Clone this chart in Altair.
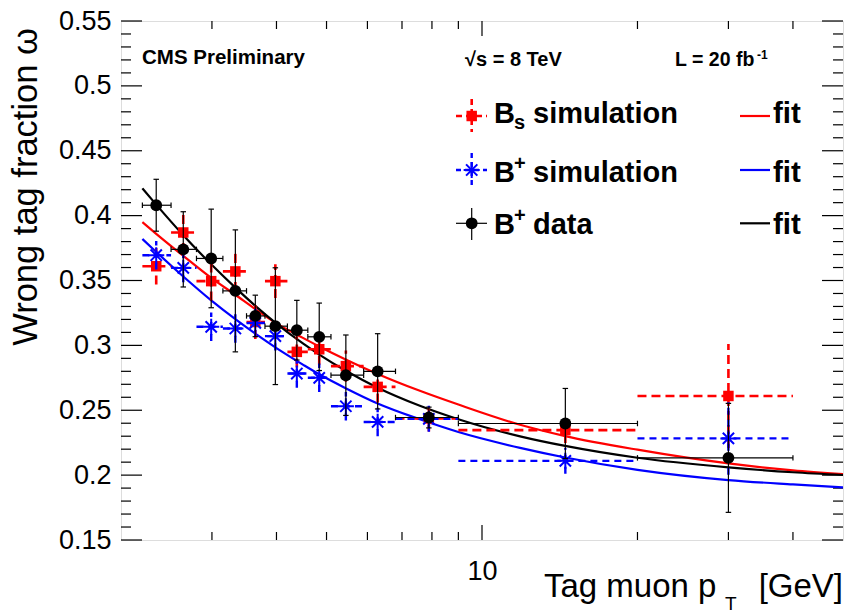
import altair as alt
import pandas as pd

# ---------------- data ----------------
pt = [2.34, 2.64, 2.99, 3.33, 3.64, 3.98, 4.38, 4.84, 5.45, 6.28, 7.89, 14.5, 30.0]
bin_lo = [2.2, 2.5, 2.8, 3.15, 3.5, 3.8, 4.2, 4.6, 5.1, 5.9, 6.8, 9.0, 20.0]
bin_hi = [2.5, 2.8, 3.15, 3.5, 3.8, 4.2, 4.6, 5.1, 5.9, 6.8, 9.0, 20.0, 40.0]

bs_sim = [0.361, 0.387, 0.3495, 0.357, 0.318, 0.3495, 0.295, 0.297, 0.284, 0.268, 0.2437, 0.2347, 0.261]
bs_err = [0.014, 0.015, 0.015, 0.015, 0.013, 0.013, 0.012, 0.012, 0.012, 0.012, 0.010, 0.010, 0.040]

bp_sim = [0.3695, 0.3597, 0.3143, 0.313, 0.3173, 0.3071, 0.2783, 0.275, 0.2531, 0.241, 0.2434, 0.211, 0.2283]
bp_sim_err = [0.011, 0.011, 0.011, 0.011, 0.011, 0.011, 0.011, 0.011, 0.011, 0.011, 0.010, 0.010, 0.028]

bp_data = [0.408, 0.374, 0.367, 0.342, 0.3227, 0.3148, 0.3117, 0.3066, 0.277, 0.280, 0.2444, 0.2398, 0.2133]
bp_data_err = [0.020, 0.029, 0.038, 0.047, 0.016, 0.045, 0.023, 0.026, 0.031, 0.029, 0.008, 0.027, 0.042]

fit_pt = [2.2, 2.34, 2.64, 2.99, 3.33, 3.64, 4.0, 4.5, 4.85, 5.47, 6.28, 7.58, 9.0, 11.85, 14.49, 20.0, 30.0, 40.0, 50.0]
fit_bs = [0.395, 0.386, 0.369, 0.352, 0.339, 0.328, 0.317, 0.3058, 0.299, 0.2888, 0.278, 0.265, 0.2544, 0.2388, 0.2301, 0.2196, 0.209, 0.2037, 0.2008]
fit_bp_sim = [0.382, 0.372, 0.3531, 0.3347, 0.3202, 0.309, 0.2979, 0.2852, 0.2775, 0.2666, 0.2552, 0.243, 0.2332, 0.221, 0.2136, 0.2041, 0.1962, 0.1928, 0.1905]
fit_bp_data = [0.421, 0.4085, 0.3849, 0.3625, 0.3445, 0.3305, 0.3168, 0.3015, 0.2927, 0.28, 0.2674, 0.2535, 0.2431, 0.2299, 0.2225, 0.2134, 0.206, 0.2022, 0.2001]

y_major = [0.15, 0.2, 0.25, 0.3, 0.35, 0.4, 0.45, 0.5, 0.55]
y_minor = [0.16, 0.17, 0.18, 0.19, 0.21, 0.22, 0.23, 0.24, 0.26, 0.27, 0.28, 0.29,
           0.31, 0.32, 0.33, 0.34, 0.36, 0.37, 0.38, 0.39, 0.41, 0.42, 0.43, 0.44,
           0.46, 0.47, 0.48, 0.49, 0.51, 0.52, 0.53, 0.54]
x_major = [10]
x_minor = [3, 4, 5, 6, 7, 8, 9, 20, 30, 40]

RED, BLUE, BLACK = "#ff0000", "#0000ff", "#000000"
FONT = "Liberation Sans"
W, H = 722, 519

xscale = alt.Scale(type="log", domain=[2, 50])
yscale = alt.Scale(domain=[0.15, 0.55])
xaxis = alt.Axis(values=x_major, ticks=False, domain=False, grid=False, title=None,
                 labelFontSize=27, labelPadding=18, labelFont=FONT, labelColor="black")
yaxis = alt.Axis(values=y_major, ticks=False, domain=False, grid=False, title=None, format="~g",
                 labelFontSize=27, labelPadding=10, labelFont=FONT, labelColor="black")


def X(f):
    return alt.X(f, type="quantitative", scale=xscale, axis=xaxis)


def Y(f):
    return alt.Y(f, type="quantitative", scale=yscale, axis=yaxis)


def series_df(vals, errs):
    d = pd.DataFrame({"pt": pt, "lo": bin_lo, "hi": bin_hi, "v": vals, "e": errs})
    d["vlo"] = d["v"] - d["e"]
    d["vhi"] = d["v"] + d["e"]
    return d


d_bs = series_df(bs_sim, bs_err)
d_bps = series_df(bp_sim, bp_sim_err)
d_bpd = series_df(bp_data, bp_data_err)

fits = pd.concat([
    pd.DataFrame({"pt": fit_pt, "w": fit_bs, "s": "bs"}),
    pd.DataFrame({"pt": fit_pt, "w": fit_bp_sim, "s": "bps"}),
    pd.DataFrame({"pt": fit_pt, "w": fit_bp_data, "s": "bpd"}),
])

layers = []

# ---- ticks (inside the frame, ROOT style) ----
ymaj = pd.DataFrame({"v": y_major})
ymin = pd.DataFrame({"v": y_minor})
xmaj = pd.DataFrame({"v": x_major})
xmin = pd.DataFrame({"v": x_minor})
tick_style = dict(color="black", strokeWidth=1.2)
for df, ln in [(ymaj, 21), (ymin, 10)]:
    layers.append(alt.Chart(df).mark_rule(**tick_style).encode(
        y=Y("v"), x=alt.value(0), x2=alt.value(ln)))
    layers.append(alt.Chart(df).mark_rule(**tick_style).encode(
        y=Y("v"), x=alt.value(W), x2=alt.value(W - ln)))
for df, ln in [(xmaj, 15), (xmin, 8)]:
    layers.append(alt.Chart(df).mark_rule(**tick_style).encode(
        x=X("v"), y=alt.value(H), y2=alt.value(H - ln)))
    layers.append(alt.Chart(df).mark_rule(**tick_style).encode(
        x=X("v"), y=alt.value(0), y2=alt.value(ln)))

# ---- fit curves ----
layers.append(alt.Chart(fits).mark_line(interpolate="monotone", strokeWidth=2.2, clip=True).encode(
    x=X("pt"), y=Y("w"),
    color=alt.Color("s:N", scale=alt.Scale(domain=["bs", "bps", "bpd"], range=[RED, BLUE, BLACK]), legend=None),
    detail="s:N"))

ASTER = "M-1,0L1,0M0,-1L0,1M-0.7,-0.7L0.7,0.7M-0.7,0.7L0.7,-0.7"
HCAP = "M-1,0L1,0"
VCAP = "M0,-1L0,1"

# ---- Bs simulation (red, dashed) ----
layers.append(alt.Chart(d_bs).mark_rule(color=RED, strokeWidth=2.6, strokeDash=[9, 5]).encode(
    x=X("lo"), x2="hi", y=Y("v")))
layers.append(alt.Chart(d_bs).mark_rule(color=RED, strokeWidth=2.6, strokeDash=[9, 5]).encode(
    x=X("pt"), y=Y("vlo"), y2="vhi"))
layers.append(alt.Chart(d_bs).mark_point(shape="square", filled=True, size=110, color=RED, opacity=1).encode(
    x=X("pt"), y=Y("v")))

# ---- B+ simulation (blue, dashed) ----
layers.append(alt.Chart(d_bps).mark_rule(color=BLUE, strokeWidth=2.4, strokeDash=[7, 5]).encode(
    x=X("lo"), x2="hi", y=Y("v")))
layers.append(alt.Chart(d_bps).mark_rule(color=BLUE, strokeWidth=2.4, strokeDash=[7, 5]).encode(
    x=X("pt"), y=Y("vlo"), y2="vhi"))
layers.append(alt.Chart(d_bps).mark_point(shape=ASTER, filled=False, size=260, color=BLUE,
                                          strokeWidth=2, opacity=1).encode(x=X("pt"), y=Y("v")))

# ---- B+ data (black, solid with caps) ----
layers.append(alt.Chart(d_bpd).mark_rule(color=BLACK, strokeWidth=1.2).encode(
    x=X("lo"), x2="hi", y=Y("v")))
layers.append(alt.Chart(d_bpd).mark_rule(color=BLACK, strokeWidth=1.2).encode(
    x=X("pt"), y=Y("vlo"), y2="vhi"))
for f in ["lo", "hi"]:
    layers.append(alt.Chart(d_bpd).mark_point(shape=VCAP, filled=False, size=30, color=BLACK,
                                              strokeWidth=1.2, opacity=1).encode(x=X(f), y=Y("v")))
for f in ["vlo", "vhi"]:
    layers.append(alt.Chart(d_bpd).mark_point(shape=HCAP, filled=False, size=30, color=BLACK,
                                              strokeWidth=1.2, opacity=1).encode(x=X("pt"), y=Y(f)))
layers.append(alt.Chart(d_bpd).mark_point(shape="circle", filled=True, size=140, color=BLACK, opacity=1).encode(
    x=X("pt"), y=Y("v")))


# ---- texts ----
def txt(s, x, y, size, bold=True, align="left", angle=0, color="black"):
    kw = dict(align=align, baseline="alphabetic", font=FONT, fontSize=size,
              fontWeight="bold" if bold else "normal", color=color)
    if angle:
        kw["angle"] = angle
    return alt.Chart(pd.DataFrame({"t": [s]})).mark_text(**kw).encode(
        text="t:N", x=alt.value(x), y=alt.value(y))


layers.append(txt("CMS Preliminary", 21, 43, 20.5))
layers.append(txt("\u221as = 8 TeV", 344, 45, 20))
layers.append(txt("L = 20 fb", 554, 45, 19.5))
layers.append(txt("-1", 636, 38, 12))

# legend rows
LX, LY = 350.7, [95, 149, 202.3]
TB = [102.3, 160.7, 213]
layers.append(txt("B", 373, TB[0], 29))
layers.append(txt("s", 393, TB[0] + 6, 20))
layers.append(txt("simulation", 412, TB[0], 29))
layers.append(txt("B", 373, TB[1], 29))
layers.append(txt("+", 393, TB[1] - 12, 20))
layers.append(txt("simulation", 412, TB[1], 29))
layers.append(txt("B", 373, TB[2], 29))
layers.append(txt("+", 393, TB[2] - 12, 20))
layers.append(txt("data", 412, TB[2], 29))
for i in range(3):
    layers.append(txt("fit", 652, TB[i], 29.5))

leg = pd.DataFrame({"k": [0]})
# legend markers
layers.append(alt.Chart(leg).mark_rule(color=RED, strokeWidth=2.6, strokeDash=[6, 4]).encode(
    x=alt.value(335), x2=alt.value(366), y=alt.value(LY[0])))
layers.append(alt.Chart(leg).mark_rule(color=RED, strokeWidth=2.6, strokeDash=[6, 4]).encode(
    x=alt.value(LX), y=alt.value(78), y2=alt.value(111)))
layers.append(alt.Chart(leg).mark_point(shape="square", filled=True, size=110, color=RED, opacity=1).encode(
    x=alt.value(LX), y=alt.value(LY[0])))
layers.append(alt.Chart(leg).mark_rule(color=BLUE, strokeWidth=2.4, strokeDash=[5, 4]).encode(
    x=alt.value(335), x2=alt.value(366), y=alt.value(LY[1])))
layers.append(alt.Chart(leg).mark_rule(color=BLUE, strokeWidth=2.4, strokeDash=[5, 4]).encode(
    x=alt.value(LX), y=alt.value(132), y2=alt.value(166)))
layers.append(alt.Chart(leg).mark_point(shape=ASTER, filled=False, size=260, color=BLUE, strokeWidth=2,
                                        opacity=1).encode(x=alt.value(LX), y=alt.value(LY[1])))
layers.append(alt.Chart(leg).mark_rule(color=BLACK, strokeWidth=1.2).encode(
    x=alt.value(335), x2=alt.value(366), y=alt.value(LY[2])))
layers.append(alt.Chart(leg).mark_rule(color=BLACK, strokeWidth=1.2).encode(
    x=alt.value(LX), y=alt.value(187), y2=alt.value(219)))
layers.append(alt.Chart(leg).mark_point(shape="circle", filled=True, size=140, color=BLACK, opacity=1).encode(
    x=alt.value(LX), y=alt.value(LY[2])))
for i, c in enumerate([RED, BLUE, BLACK]):
    layers.append(alt.Chart(leg).mark_rule(color=c, strokeWidth=2.2).encode(
        x=alt.value(619), x2=alt.value(649), y=alt.value(LY[i])))

# axis titles
layers.append(txt("Wrong tag fraction \u03c9", -84, 7, 34.5, bold=False, align="right", angle=270))
layers.append(txt("Tag muon p", 423, 576, 33, bold=False))
layers.append(txt("T", 604, 589, 19, bold=False))
layers.append(txt("[GeV]", 722, 576, 33, bold=False, align="right"))

chart = alt.layer(*layers).properties(
    width=W, height=H,
    padding={"left": 121, "top": 21, "right": 4, "bottom": 76},
    autosize=alt.AutoSizeParams(type="none"),
).configure_view(stroke="black", strokeWidth=1.5).configure(background="white")

chart.save("out.html", embed_options={"renderer": "svg", "actions": False})
